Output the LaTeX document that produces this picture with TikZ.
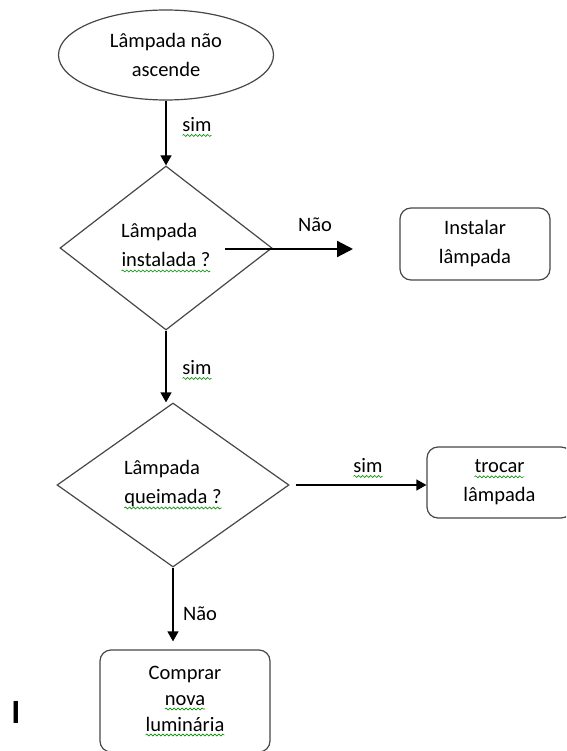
\documentclass[tikz,border=0pt]{standalone}
\usepackage{fontspec}
\setmainfont{Carlito}
\usetikzlibrary{shapes.geometric,arrows.meta,decorations.pathmorphing}

\tikzset{
  base/.style={font=\fontsize{20.5}{29}\selectfont, text=black},
  outline/.style={draw=black!72, line width=1.2pt},
  decision/.style={base, outline, diamond, inner sep=0pt, align=left},
  action/.style={base, outline, rectangle, rounded corners=11pt, align=center, inner sep=0pt},
  flow/.style={draw=black, line width=1.2pt, -{Triangle[length=10pt,width=11pt]}},
  flowlabel/.style={base, inner sep=0pt},
  squiggle/.style={draw=green!55!black, line width=0.6pt, sharp corners, decorate,
    decoration={snake, segment length=4pt, amplitude=1pt}},
}
% word with a wavy proofing underline
\newcommand\spellmark[1]{\tikz[baseline=(w.base)]{%
  \node[shape=rectangle, draw=none, fill=none, inner sep=0pt, outer sep=0pt,
        minimum size=0pt, anchor=base, sharp corners] (w) {#1};
  \path[squiggle] ([yshift=-4pt]w.base west) -- ([yshift=-4pt]w.base east);}}

\begin{document}
\begin{tikzpicture}[x=1pt,y=-1pt]
  \useasboundingbox (0,0) rectangle (566,751);
  \clip (0,0) rectangle (566,751);

  % nodes
  \node[base, outline, ellipse, minimum width=215pt, minimum height=90pt,
        inner sep=0pt, align=center] (start) at (166,55) {Lâmpada não\\ascende};
  \node[decision, minimum width=212pt, minimum height=164pt] (d1) at (166,248)
       {Lâmpada\\\spellmark{instalada ?}};
  \node[action, minimum width=150pt, minimum height=72pt] (install) at (475,244)
       {Instalar\\lâmpada};
  \node[decision, minimum width=232pt, minimum height=164pt] (d2) at (173,485)
       {Lâmpada\\\spellmark{queimada ?}};
  \node[action, minimum width=145pt, minimum height=71pt] (swap) at (499.5,482.5)
       {\spellmark{trocar}\\lâmpada};
  \node[action, minimum width=170pt, minimum height=102pt,
        font=\fontsize{20.5}{26}\selectfont] (buy) at (185,701)
       {Comprar\\\spellmark{nova}\\\spellmark{luminária}};
  \node[font=\fontsize{34}{34}\selectfont\bfseries, inner sep=0pt] (cursor) at (16,712) {I};

  % connectors
  \draw[flow] (start.south) -- (d1.north);
  \draw[flow] (d1.south) -- (d1.south |- d2.north);
  \coordinate (naoStart) at (225,249);
  \coordinate (naoEnd) at (353,249);
  \draw[flow, line width=2.2pt, -{Triangle[length=16pt,width=16pt]}] (naoStart) -- (naoEnd);
  \draw[flow, shorten <=6pt] (d2.east) -- (d2.east -| swap.west);
  \draw[flow, shorten >=8pt] (d2.south) -- (d2.south |- buy.north);

  % connector labels
  \node[flowlabel] (l1) at (197,127) {\spellmark{sim}};
  \node[flowlabel] (l2) at (315,225) {Não};
  \node[flowlabel] (l3) at (197,370) {\spellmark{sim}};
  \node[flowlabel] (l4) at (368,468) {\spellmark{sim}};
  \node[flowlabel] (l5) at (200,614) {Não};
\end{tikzpicture}
\end{document}
